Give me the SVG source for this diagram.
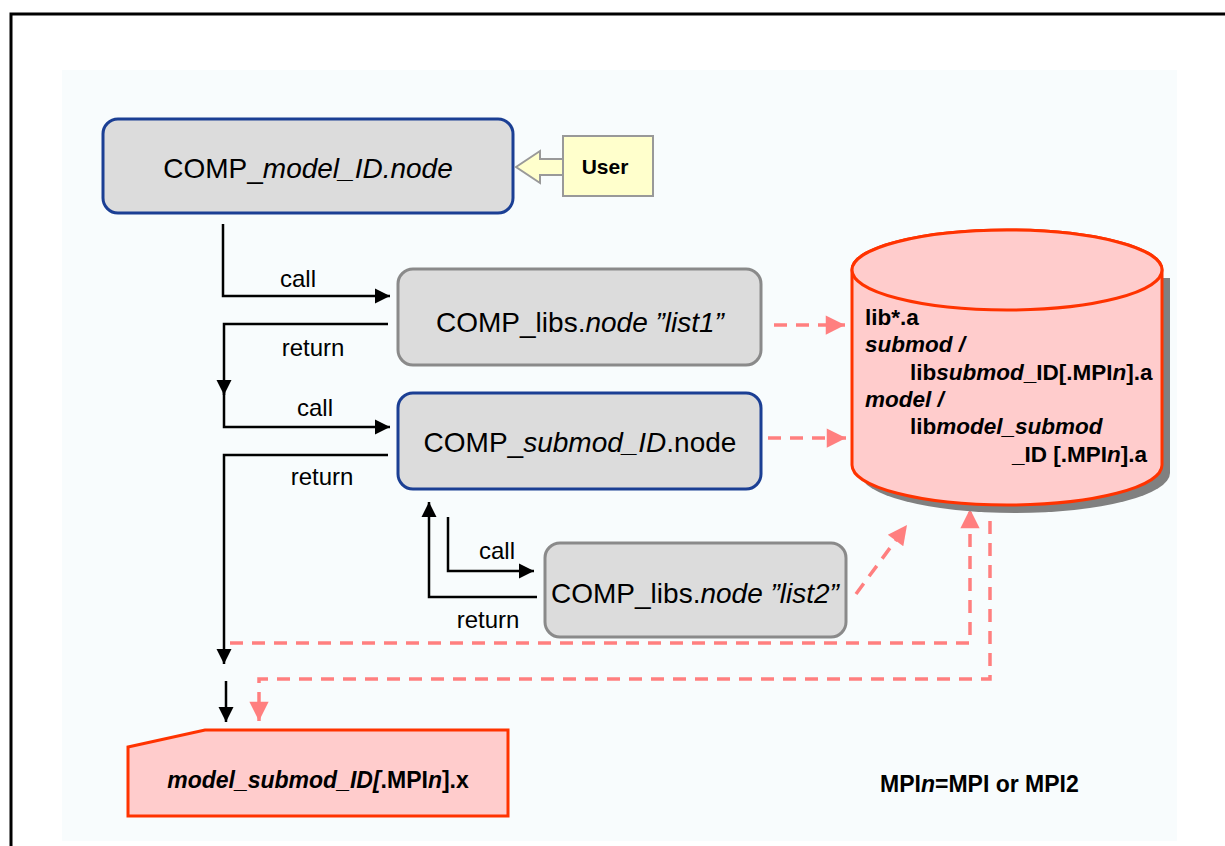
<svg xmlns="http://www.w3.org/2000/svg" width="1225" height="846" viewBox="0 0 1225 846">
<defs>
<style>
.t{font-family:"Liberation Sans",Arial,sans-serif;fill:#000}
.i{font-style:italic}
.b{font-weight:bold}
.node{fill:#DCDCDC;stroke-width:3}
.blue{stroke:#1B3F94}
.gray{stroke:#8A8A8A}
.blk{fill:none;stroke:#000;stroke-width:2.5}
.pk{fill:none;stroke:#FF7F7F;stroke-width:3.5;stroke-dasharray:13 9}
</style>
<marker id="ab" viewBox="0 0 10 10" refX="10" refY="5" markerWidth="6" markerHeight="6.5" markerUnits="strokeWidth" orient="auto">
<path d="M0,0 L10,5 L0,10 Z" fill="#000"/>
</marker>
<marker id="ap" viewBox="0 0 10 10" refX="10" refY="5" markerWidth="6" markerHeight="5.5" markerUnits="strokeWidth" orient="auto">
<path d="M0,0 L10,5 L0,10 Z" fill="#FF7F7F"/>
</marker>
</defs>
<rect width="1225" height="846" fill="#fff"/>
<path d="M11,846 V14 H1225" fill="none" stroke="#000" stroke-width="3"/>
<rect x="62" y="70" width="1115" height="771" fill="#F8FCFD"/>

<g id="connectors">
<polyline class="blk" points="223,224 223,296 390,296" marker-end="url(#ab)"/>
<polyline class="blk" points="388,324 224,324 224,395" marker-end="url(#ab)"/>
<polyline class="blk" points="224,392 224,427 390,427" marker-end="url(#ab)"/>
<polyline class="blk" points="388,455 224,455 224,664" marker-end="url(#ab)"/>
<line class="blk" x1="226" y1="681" x2="226" y2="722" marker-end="url(#ab)"/>
<polyline class="blk" points="537,597 429,597 429,502" marker-end="url(#ab)"/>
<polyline class="blk" points="448,517 448,571 534,571" marker-end="url(#ab)"/>
<line class="pk" x1="774" y1="325" x2="845" y2="325" marker-end="url(#ap)"/>
<line class="pk" x1="768" y1="438" x2="846" y2="438" marker-end="url(#ap)"/>
<line class="pk" x1="856" y1="594" x2="907" y2="525" marker-end="url(#ap)"/>
<polyline class="pk" points="230,643 970,643 970,509" marker-end="url(#ap)"/>
<polyline class="pk" points="990,521 990,679 259,679 259,721" marker-end="url(#ap)"/>
<text class="t" x="298" y="287" font-size="24" text-anchor="middle">call</text>
<text class="t" x="313" y="356" font-size="24" text-anchor="middle">return</text>
<text class="t" x="315" y="416" font-size="24" text-anchor="middle">call</text>
<text class="t" x="322" y="485" font-size="24" text-anchor="middle">return</text>
<text class="t" x="497" y="559" font-size="24" text-anchor="middle">call</text>
<text class="t" x="488" y="628" font-size="24" text-anchor="middle">return</text>
</g>

<g id="node-model">
<rect class="node blue" x="103" y="119" width="410" height="94" rx="15"/>
<text class="t" x="308" y="178" font-size="28" text-anchor="middle">COMP_<tspan class="i">model_ID.node</tspan></text>
</g>

<g id="node-user">
<path d="M516,167 L540,151 L540,159 L563,159 L563,175 L540,175 L540,183 Z" fill="#FFFFCC" stroke="#999" stroke-width="2"/>
<rect x="563" y="136" width="90" height="60" fill="#FFFFCC" stroke="#999" stroke-width="2"/>
<text class="t b" x="605" y="174" font-size="21" text-anchor="middle">User</text>
</g>

<g id="node-list1">
<rect class="node gray" x="398" y="269" width="363" height="96" rx="15"/>
<text class="t" x="580" y="332" font-size="28" text-anchor="middle">COMP_libs.<tspan class="i">node ”list1”</tspan></text>
</g>

<g id="node-submod">
<rect class="node blue" x="398" y="393" width="363" height="96" rx="15"/>
<text class="t" x="580" y="452" font-size="28" text-anchor="middle">COMP_<tspan class="i">submod_ID</tspan>.node</text>
</g>

<g id="node-list2">
<rect class="node gray" x="545" y="543" width="301" height="94" rx="15"/>
<text class="t" x="695" y="603" font-size="28" text-anchor="middle">COMP_libs.<tspan class="i">node ”list2”</tspan></text>
</g>

<g id="node-libs">
<path d="M860,278 V473 A155,40 0 0 0 1170,473 V278 Z" fill="#808080"/>
<path d="M852,270 V465 A155,40 0 0 0 1162,465 V270 A155,40 0 0 0 852,270 Z" fill="#FFCCCC" stroke="#FF3300" stroke-width="3"/>
<ellipse cx="1007" cy="270" rx="155" ry="40" fill="#FFCCCC" stroke="#FF3300" stroke-width="3"/>
<g class="t b" font-size="22.5">
<text x="865" y="325">lib*.a</text>
<text x="865" y="352" class="i">submod /</text>
<text x="910" y="380">lib<tspan class="i">submod</tspan>_ID[.MPI<tspan class="i">n</tspan>].a</text>
<text x="865" y="407" class="i">model /</text>
<text x="910" y="434">lib<tspan class="i">model_submod</tspan></text>
<text x="1012" y="462">_ID [.MPI<tspan class="i">n</tspan>].a</text>
</g>
</g>

<g id="node-exe">
<path d="M128,747 L205,730 L508,730 L508,816 L128,816 Z" fill="#FFCCCC" stroke="#FF3300" stroke-width="3"/>
<text class="t b" x="318" y="788" font-size="23" text-anchor="middle"><tspan class="i">model_submod_ID[</tspan>.MPI<tspan class="i">n</tspan>].x</text>
</g>

<g id="note">
<text class="t b" x="880" y="792" font-size="23">MPI<tspan class="i">n</tspan>=MPI or MPI2</text>
</g>
</svg>
